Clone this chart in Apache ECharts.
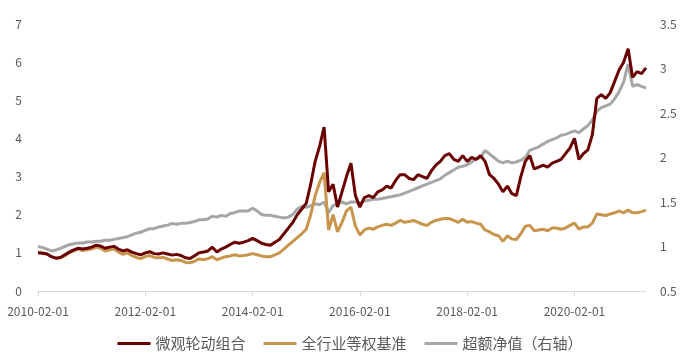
<!DOCTYPE html>
<html>
<head>
<meta charset="utf-8">
<script src="https://cdn.jsdelivr.net/npm/echarts@6/dist/echarts.min.js"></script>
<style>html,body{margin:0;padding:0;background:#fff}#c{width:700px;height:358px}</style>
</head>
<body>
<div id="c"></div>
<script>
// Monthly observations, 2010-02 .. 2021-06
const startYear = 2010, startMonth = 2, monthCount = 137;
const categories = [];
for (let i = 0; i < monthCount; i++) {
  const t = startMonth - 1 + i;
  const y = startYear + Math.floor(t / 12), m = (t % 12) + 1;
  categories.push(y + '-' + String(m).padStart(2, '0') + '-01');
}

const seriesNames = ['微观轮动组合', '全行业等权基准', '超额净值（右轴）'];

// 微观轮动组合 (left axis)
const rotation = [
  1.00, 0.99, 0.97, 0.90, 0.86, 0.88, 0.95, 1.02, 1.08, 1.12, 1.10,
  1.12, 1.15, 1.20, 1.18, 1.12, 1.15, 1.17, 1.10, 1.05, 1.08, 1.02, 0.98,
  0.95, 1.00, 1.03, 0.98, 0.97, 1.00, 0.97, 0.94, 0.96, 0.93, 0.87, 0.85,
  0.92, 1.00, 1.02, 1.05, 1.15, 1.02, 1.10, 1.15, 1.22, 1.28, 1.25, 1.28,
  1.32, 1.38, 1.32, 1.25, 1.22, 1.20, 1.28, 1.35, 1.50, 1.65, 1.80, 2.00,
  2.15, 2.30, 2.80, 3.40, 3.80, 4.30, 2.60, 2.80, 2.20, 2.60, 3.00, 3.35,
  2.50, 2.20, 2.45, 2.50, 2.45, 2.60, 2.65, 2.75, 2.70, 2.90, 3.05, 3.05,
  2.95, 2.92, 3.05, 3.00, 2.95, 3.15, 3.30, 3.40, 3.55, 3.60, 3.45, 3.40,
  3.55, 3.40, 3.50, 3.45, 3.55, 3.40, 3.05, 2.95, 2.80, 2.60, 2.75, 2.55,
  2.50, 3.00, 3.40, 3.55, 3.20, 3.25, 3.30, 3.25, 3.35, 3.40, 3.45, 3.60,
  3.75, 4.00, 3.45, 3.60, 3.70, 4.10, 5.05, 5.15, 5.05, 5.20, 5.50, 5.80,
  6.00, 6.35, 5.60, 5.75, 5.70, 5.85
];

// 全行业等权基准 (left axis)
const benchmark = [
  1.00, 1.00, 0.98, 0.90, 0.86, 0.87, 0.92, 1.00, 1.05, 1.10, 1.06,
  1.08, 1.10, 1.15, 1.12, 1.05, 1.08, 1.10, 1.02, 0.96, 1.00, 0.93, 0.88,
  0.85, 0.90, 0.93, 0.88, 0.87, 0.88, 0.84, 0.80, 0.82, 0.80, 0.75, 0.74,
  0.78, 0.84, 0.82, 0.85, 0.90, 0.82, 0.86, 0.90, 0.92, 0.95, 0.92, 0.93,
  0.95, 0.98, 0.95, 0.92, 0.90, 0.90, 0.95, 1.00, 1.10, 1.20, 1.30, 1.40,
  1.50, 1.62, 2.00, 2.50, 2.85, 3.10, 1.60, 2.00, 1.55, 1.80, 2.10, 2.20,
  1.70, 1.47, 1.60, 1.65, 1.62, 1.68, 1.72, 1.75, 1.72, 1.78, 1.85, 1.80,
  1.82, 1.85, 1.80, 1.75, 1.72, 1.80, 1.85, 1.88, 1.90, 1.90, 1.85, 1.80,
  1.88, 1.80, 1.82, 1.78, 1.75, 1.60, 1.55, 1.48, 1.45, 1.30, 1.45, 1.36,
  1.35, 1.50, 1.70, 1.72, 1.58, 1.60, 1.62, 1.58, 1.65, 1.65, 1.62, 1.65,
  1.72, 1.78, 1.62, 1.68, 1.68, 1.78, 2.02, 2.00, 1.98, 2.02, 2.05, 2.10,
  2.05, 2.12, 2.05, 2.05, 2.08, 2.12
];

// 超额净值 (right axis)
const excess = [
  1.00, 0.99, 0.97, 0.95, 0.96, 0.98, 1.00, 1.02, 1.03, 1.04, 1.04,
  1.05, 1.05, 1.06, 1.06, 1.07, 1.07, 1.08, 1.09, 1.10, 1.11, 1.13, 1.15,
  1.16, 1.18, 1.20, 1.20, 1.22, 1.23, 1.24, 1.26, 1.25, 1.26, 1.26, 1.27,
  1.28, 1.30, 1.30, 1.31, 1.34, 1.33, 1.35, 1.34, 1.37, 1.38, 1.40, 1.40,
  1.40, 1.43, 1.40, 1.36, 1.35, 1.35, 1.34, 1.33, 1.32, 1.33, 1.36, 1.42,
  1.45, 1.44, 1.46, 1.48, 1.47, 1.50, 1.38, 1.46, 1.48, 1.50, 1.48, 1.50,
  1.50, 1.49, 1.51, 1.52, 1.53, 1.53, 1.54, 1.55, 1.56, 1.57, 1.58, 1.60,
  1.62, 1.64, 1.66, 1.68, 1.70, 1.72, 1.74, 1.76, 1.80, 1.83, 1.86, 1.89,
  1.90, 1.92, 1.95, 1.98, 2.00, 2.08, 2.04, 2.00, 1.96, 1.94, 1.96, 1.94,
  1.95, 1.97, 2.00, 2.08, 2.10, 2.12, 2.15, 2.18, 2.20, 2.22, 2.25, 2.26,
  2.28, 2.30, 2.28, 2.32, 2.36, 2.42, 2.52, 2.56, 2.58, 2.60, 2.66, 2.74,
  2.85, 3.05, 2.80, 2.82, 2.80, 2.78
];

const leftTicks = { min: 0, max: 7, interval: 1 };
const rightTicks = { min: 0.5, max: 3.5, interval: 0.5 };

const FONT = '"Noto Sans CJK SC", "Noto Sans", sans-serif';
const chart = echarts.init(document.getElementById('c'), null, { renderer: 'canvas' });
chart.setOption({
  animation: false,
  backgroundColor: '#ffffff',
  textStyle: { fontFamily: FONT },
  grid: { left: 38, right: 54, top: 24, bottom: 67 },
  legend: {
    data: seriesNames,
    top: 331,
    left: 'center',
    icon: 'rect',
    itemWidth: 33,
    itemHeight: 3,
    itemGap: 18,
    textStyle: { fontFamily: FONT, fontSize: 15, color: '#595959' }
  },
  xAxis: {
    type: 'category',
    data: categories,
    boundaryGap: false,
    axisLine: { lineStyle: { color: '#d9d9d9', width: 1 } },
    axisTick: { show: true, interval: 23, length: 5, lineStyle: { color: '#d9d9d9' } },
    axisLabel: { interval: 23, color: '#595959', fontSize: 12, margin: 14, fontFamily: FONT },
    splitLine: { show: false }
  },
  yAxis: [
    {
      type: 'value', min: leftTicks.min, max: leftTicks.max, interval: leftTicks.interval,
      axisLine: { show: false }, axisTick: { show: false }, splitLine: { show: false },
      axisLabel: { color: '#595959', fontSize: 12, margin: 16, fontFamily: FONT }
    },
    {
      type: 'value', min: rightTicks.min, max: rightTicks.max, interval: rightTicks.interval,
      position: 'right',
      axisLine: { show: false }, axisTick: { show: false }, splitLine: { show: false },
      axisLabel: { color: '#595959', fontSize: 12, margin: 14, fontFamily: FONT }
    }
  ],
  series: [
    { name: seriesNames[2], type: 'line', yAxisIndex: 1, data: excess, showSymbol: false, symbol: 'none',
      lineStyle: { color: '#A6A6A6', width: 3 }, itemStyle: { color: '#A6A6A6' } },
    { name: seriesNames[1], type: 'line', yAxisIndex: 0, data: benchmark, showSymbol: false, symbol: 'none',
      lineStyle: { color: '#C8954D', width: 3 }, itemStyle: { color: '#C8954D' } },
    { name: seriesNames[0], type: 'line', yAxisIndex: 0, data: rotation, showSymbol: false, symbol: 'none',
      lineStyle: { color: '#6B0000', width: 3 }, itemStyle: { color: '#6B0000' } }
  ]
});
</script>
</body>
</html>
